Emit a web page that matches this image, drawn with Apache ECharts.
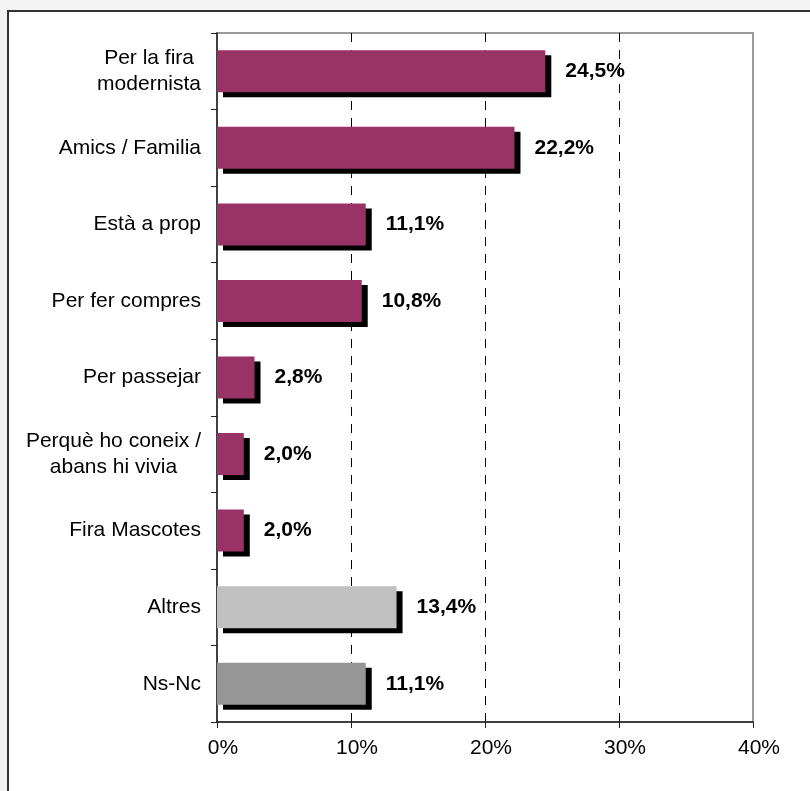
<!DOCTYPE html>
<html>
<head>
<meta charset="utf-8">
<script src="https://cdn.jsdelivr.net/npm/echarts@6/dist/echarts.min.js"></script>
<style>
html,body{margin:0;padding:0;background:#f3f3f3;}
#c{width:810px;height:791px;}
</style>
</head>
<body>
<div id="c"></div>
<script>
const categories = ['Per la fira\nmodernista', 'Amics / Familia', 'Està a prop', 'Per fer compres', 'Per passejar', 'Perquè ho coneix /\nabans hi vivia', 'Fira Mascotes', 'Altres', 'Ns-Nc'];
const values = [24.5, 22.2, 11.1, 10.8, 2.8, 2.0, 2.0, 13.4, 11.1];
const xMin = 0, xMax = 40, xStep = 10;

const FONT = 'Liberation Sans, Arial, sans-serif';
function barColor(name) {
  if (name === 'Altres') return '#C0C0C0';
  if (name === 'Ns-Nc') return '#969696';
  return '#993366';
}

const chart = echarts.init(document.getElementById('c'), null, {renderer: 'canvas'});
chart.setOption({
  backgroundColor: 'transparent',
  animation: false,
  graphic: [{
    type: 'rect', z: -100, silent: true,
    shape: {x: 8, y: 11, width: 900, height: 900},
    style: {fill: '#ffffff', stroke: '#333333', lineWidth: 2}
  }],
  grid: {
    left: 217, right: 57, top: 33, bottom: 69,
    show: true, borderColor: '#9a9a9a', borderWidth: 2, backgroundColor: 'transparent'
  },
  xAxis: {
    type: 'value', min: xMin, max: xMax, interval: xStep,
    axisLine: {show: true, lineStyle: {color: '#222', width: 1.5}},
    axisTick: {show: true, length: 6, lineStyle: {color: '#222', width: 1}},
    axisLabel: {
      formatter: '{value}%', margin: 16, color: '#000', fontSize: 21, fontFamily: FONT,
      padding: [0, 0, 0, 12]
    },
    splitLine: {show: true, lineStyle: {color: ['rgba(0,0,0,0)', '#000', '#000', '#000', 'rgba(0,0,0,0)'], type: [9, 8], width: 1}}
  },
  yAxis: {
    type: 'category', inverse: true, data: categories,
    axisLine: {show: true, lineStyle: {color: '#222', width: 1.5}},
    axisTick: {show: true, length: 6, lineStyle: {color: '#222', width: 1}},
    axisLabel: {
      margin: 16, color: '#000', fontSize: 21, fontFamily: FONT, lineHeight: 26,
      formatter: v => '{c|' + v + '}',
      rich: {c: {align: 'center', color: '#000', fontSize: 21, fontFamily: FONT, lineHeight: 26}}
    },
    splitLine: {show: false}
  },
  series: [{
    type: 'bar',
    data: values,
    barWidth: 42,
    itemStyle: {
      color: p => barColor(categories[p.dataIndex]),
      shadowColor: '#000', shadowBlur: 0, shadowOffsetX: 6, shadowOffsetY: 5
    },
    label: {
      show: true, position: 'right', distance: 20,
      formatter: p => p.value.toFixed(1).replace('.', ',') + '%',
      color: '#000', fontSize: 21, fontWeight: 'bold', fontFamily: FONT
    }
  }]
});
</script>
</body>
</html>
